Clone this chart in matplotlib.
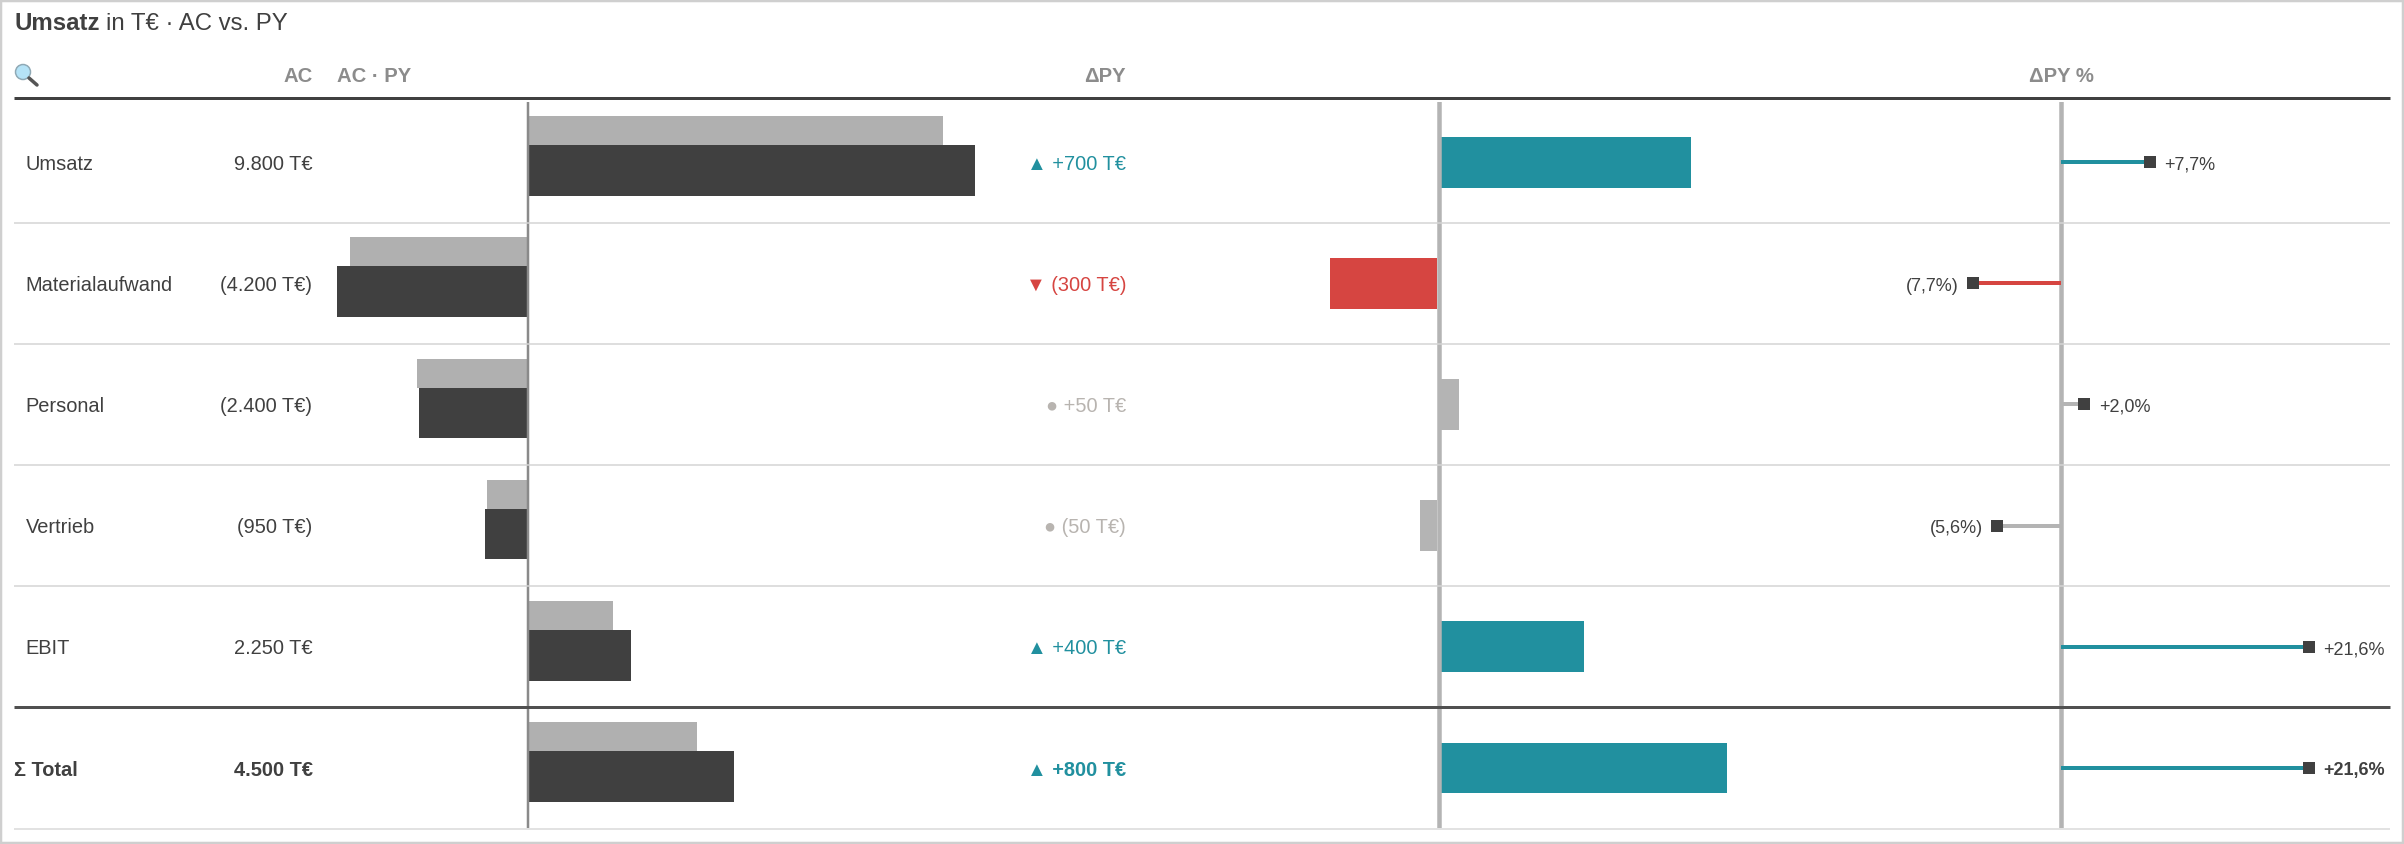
import matplotlib
matplotlib.use('Agg')
import matplotlib.pyplot as plt
from matplotlib.patches import Circle, Rectangle

plt.rcParams['font.family'] = ['Liberation Sans', 'DejaVu Sans']

W, H = 2404, 844

# data
categories = ['Umsatz', 'Materialaufwand', 'Personal', 'Vertrieb', 'EBIT', 'Σ Total']
ac = [9800, -4200, -2400, -950, 2250, 4500]
py = [9100, -3900, -2450, -900, 1850, 3700]
delta = [700, -300, 50, -50, 400, 800]
delta_pct = [7.7, -7.7, 2.0, -5.6, 21.6, 21.6]
status = ['good', 'bad', 'neutral', 'neutral', 'good', 'good']
ac_labels = ['9.800 T€', '(4.200 T€)', '(2.400 T€)', '(950 T€)', '2.250 T€', '4.500 T€']
delta_labels = ['▲ +700 T€', '▼ (300 T€)', '● +50 T€', '● (50 T€)', '▲ +400 T€', '▲ +800 T€']
pct_labels = ['+7,7%', '(7,7%)', '+2,0%', '(5,6%)', '+21,6%', '+21,6%']
headers = ['AC', 'AC · PY', 'ΔPY', 'ΔPY %']

DARK = '#404040'
PY_GREY = '#b0b0b0'
HEAD_GREY = '#8c8c8c'
bar_colors = {'good': '#21909f', 'bad': '#d64541', 'neutral': '#b4b4b4'}
text_colors = {'good': '#21909f', 'bad': '#d64541', 'neutral': '#b8b4b0'}

ROW_TOP = 101.5
ROW_H = 121.2
N = len(categories)
rows = list(range(N))
row_px = [162.5 + ROW_H * i for i in rows]
FS = 14.4  # 20px at dpi 100
HEAD_FS = 14.6
PCT_ZERO = 2061.4
PCT_SCALE = 11.45


def px(n):
    return n * 0.72


fig = plt.figure(figsize=(W / 100, H / 100), dpi=100, facecolor='white')


def panel(x0, x1, zero, scale):
    # axes placed in pixels, x in data units, y in row numbers
    a = fig.add_axes([x0 / W, 1 - 828.6 / H, (x1 - x0) / W, (828.6 - ROW_TOP) / H])
    a.set_xlim((x0 - zero) / scale, (x1 - zero) / scale)
    a.set_ylim(N - 0.5, -0.5)
    a.axis('off')
    a.patch.set_alpha(0)
    return a


# AC / PY panel
ax1 = panel(300, 1030, 528.3, 0.0456)
ax1.barh([r - 0.258 for r in rows], py, height=0.24, color=PY_GREY, linewidth=0)
ax1.barh([r + 0.07 for r in rows], ac, height=0.418, color=DARK, linewidth=0)
ax1.axvline(0, color='#8a8a8a', lw=px(2.5))

# delta panel
gap = 5
ax2 = panel(1200, 1800, 1439.2, 0.357)
ax2.barh(rows, delta, height=0.42, left=[gap if d > 0 else -gap for d in delta],
         color=[bar_colors[s] for s in status], linewidth=0)
ax2.axvline(0, color='#b4b4b4', lw=px(4.5))

# delta % panel
ax3 = panel(1900, 2390, PCT_ZERO, PCT_SCALE)
ax3.axvline(0, color='#b4b4b4', lw=px(4.5))
for r, v, s in zip(rows, delta_pct, status):
    ax3.plot([0, v], [r, r], color=bar_colors[s], lw=px(4), solid_capstyle='butt')
    ax3.plot(v, r, 's', color=DARK, ms=px(12.5), mew=0)

# overlay in pixel coordinates: rules and all the text
ov = fig.add_axes([0, 0, 1, 1], zorder=5)
ov.set_xlim(0, W)
ov.set_ylim(H, 0)
ov.axis('off')
ov.patch.set_alpha(0)

ov.add_patch(Rectangle((1, 1), W - 2, H - 2, fill=False, ec='#cfcfcf', lw=px(2.5)))

ov.hlines(97.5, 14, 2390, color=DARK, lw=px(3))
for i in range(4):
    ov.hlines(222.5 + ROW_H * i, 14, 2390, color='#d4d4d4', lw=px(1.5))
ov.hlines(222.5 + ROW_H * 4, 14, 2390, color='#505050', lw=px(3))
ov.hlines(829, 14, 2390, color='#e2e2e2', lw=px(2))

ov.text(14, 30, 'Umsatz', fontsize=17.3, fontweight='bold', color=DARK)
ov.text(105.5, 30, 'in T€ · AC vs. PY', fontsize=17.3, color=DARK)

# magnifier icon
ov.plot([29, 37], [78, 85], color='#555555', lw=px(3.5), solid_capstyle='round')
ov.add_patch(Circle((23, 72), 7.5, fc='#b5e3f7', ec='#8fa9b5', lw=px(1.5)))

ov.text(312.5, 82, headers[0], ha='right', fontsize=HEAD_FS, fontweight='bold', color=HEAD_GREY)
ov.text(337, 82, headers[1], ha='left', fontsize=HEAD_FS, fontweight='bold', color=HEAD_GREY)
ov.text(1126, 82, headers[2], ha='right', fontsize=HEAD_FS, fontweight='bold', color=HEAD_GREY)
ov.text(2061.6, 82, headers[3], ha='center', fontsize=HEAD_FS, fontweight='bold', color=HEAD_GREY)

for i, name in enumerate(categories):
    y = row_px[i] + 7
    weight = 'bold' if i == N - 1 else 'normal'
    ov.text(14 if i == N - 1 else 25.5, y, name, fontsize=FS, color=DARK, fontweight=weight)
    ov.text(312.5, y, ac_labels[i], ha='right', fontsize=FS, color=DARK, fontweight=weight)
    ov.text(1126, y, delta_labels[i], ha='right', fontsize=FS,
            color=text_colors[status[i]], fontweight=weight)
    if delta_pct[i] > 0:
        xp = PCT_ZERO + delta_pct[i] * PCT_SCALE + 14.5
        ha = 'left'
    else:
        xp = PCT_ZERO + delta_pct[i] * PCT_SCALE - 14.5
        ha = 'right'
    ov.text(xp, y, pct_labels[i], ha=ha, fontsize=13, color=DARK, fontweight=weight)

fig.savefig('out.png', dpi=100)
